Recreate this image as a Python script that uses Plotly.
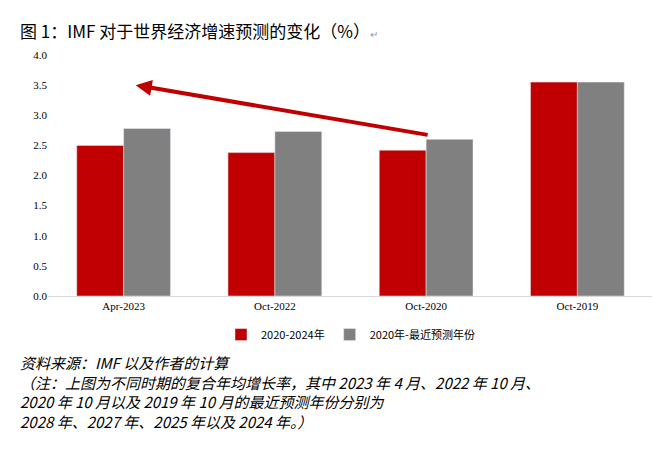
import plotly.graph_objects as go

categories = ["Apr-2023", "Oct-2022", "Oct-2020", "Oct-2019"]
growth_2020_2024 = [2.5, 2.38, 2.42, 3.55]
growth_latest = [2.78, 2.73, 2.6, 3.55]

fig = go.Figure()
fig.add_trace(go.Bar(x=categories, y=growth_2020_2024, name="2020-2024年",
                     marker_color="#C00000"))
fig.add_trace(go.Bar(x=categories, y=growth_latest, name="2020年-最近预测年份",
                     marker_color="#808080"))

# red arrow pointing back from Oct-2020 to Apr-2023
fig.add_annotation(x=0.08, y=3.5, ax=2.02, ay=2.67, xref="x", yref="y",
                   axref="x", ayref="y", showarrow=True, arrowhead=2,
                   arrowsize=0.8, arrowwidth=4, arrowcolor="#C00000", text="")

fig.add_annotation(x=-0.05, y=1.16, xref="paper", yref="paper", xanchor="left",
                   yanchor="top",
                   text="图 1：IMF 对于世界经济增速预测的变化（%）<span style='color:#999;font-size:10px'>↵</span>",
                   showarrow=False, font=dict(size=17, color="black"))

note = ("<i>资料来源：IMF 以及作者的计算</i><br>"
        "<i>（注：上图为不同时期的复合年均增长率，其中 2023 年 4 月、2022 年 10 月、</i><br>"
        "<i>2020 年 10 月以及 2019 年 10 月的最近预测年份分别为</i><br>"
        "<i>2028 年、2027 年、2025 年以及 2024 年。）</i>")
fig.add_annotation(x=-0.05, y=-0.225, xref="paper", yref="paper", xanchor="left",
                   yanchor="top", text=note, showarrow=False, align="left",
                   font=dict(size=15, color="black", family="Noto Sans CJK SC"))

fig.update_layout(
    width=660, height=457,
    paper_bgcolor="white", plot_bgcolor="white",
    font=dict(family="Noto Sans CJK SC", color="black"),
    margin=dict(l=40, r=15, t=47, b=169),
    barmode="group", bargap=0.38, bargroupgap=0,
    showlegend=True,
    legend=dict(orientation="h", x=0.5, xanchor="center", y=-0.16, yanchor="middle",
                font=dict(size=11)),
    xaxis=dict(showline=True, linecolor="#d9d9d9",
               tickfont=dict(size=11, family="Liberation Serif")),
    yaxis=dict(range=[0, 4.0], dtick=0.5, tickformat=".1f", showgrid=False,
               showline=False, tickfont=dict(size=11, family="Liberation Serif")),
)

fig.write_html("out.html")
